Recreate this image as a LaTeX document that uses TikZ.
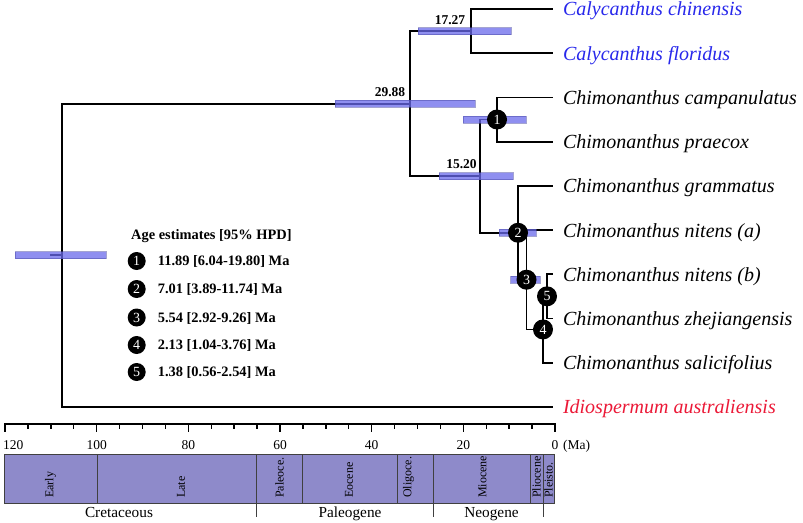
\documentclass[tikz,border=0pt]{standalone}
\usepackage{fontspec}
\setmainfont{Liberation Serif}
\definecolor{barblue}{RGB}{105,105,235}
\definecolor{calblue}{RGB}{40,40,235}
\definecolor{idired}{RGB}{235,25,55}
\definecolor{tsfill}{RGB}{142,138,202}
\begin{document}
\begin{tikzpicture}[x=1pt,y=-1pt,
  branch/.style={line width=1.8pt, line join=miter},
  hpd/.style={fill=barblue, fill opacity=0.75, draw=barblue!70!black, draw opacity=0.5, line width=0.5pt},
  nodecirc/.style={circle, fill=black, minimum size=20pt, inner sep=0pt, text=white, font=\fontsize{14}{14}\selectfont},
  tip/.style={anchor=west, inner xsep=10pt, inner ysep=0pt, outer sep=0pt, text height=18pt, text depth=4pt, font=\fontsize{20}{20}\selectfont\itshape},
  agelab/.style={anchor=base, inner sep=0pt, font=\fontsize{13.5}{13.5}\selectfont\bfseries},
  legtext/.style={anchor=base west, inner sep=0pt, font=\fontsize{14.4}{14.4}\selectfont\bfseries},
  axlabel/.style={anchor=base, inner sep=0pt, font=\fontsize{13.5}{13.5}\selectfont},
  epoch/.style={rotate=90, anchor=west, inner sep=0pt, font=\fontsize{12}{12}\selectfont},
  period/.style={anchor=base, inner sep=0pt, font=\fontsize{15.3}{15.3}\selectfont},
  tsbox/.style={fill=tsfill, draw=black!75, line width=0.8pt},
  axisline/.style={line width=1.8pt},
  tick/.style={line width=1.4pt}
]
\useasboundingbox (0,0) rectangle (803,522);

% tips
\node[tip, text=calblue] (t1) at (553,9) {Calycanthus chinensis};
\node[tip, text=calblue] (t2) at (553,53.2) {Calycanthus floridus};
\node[tip] (t3) at (553,97.4) {Chimonanthus campanulatus};
\node[tip] (t4) at (553,141.6) {Chimonanthus praecox};
\node[tip] (t5) at (553,185.8) {Chimonanthus grammatus};
\node[tip] (t6) at (553,230) {Chimonanthus nitens (a)};
\node[tip] (t7) at (553,274.2) {Chimonanthus nitens (b)};
\node[tip] (t8) at (553,318.4) {Chimonanthus zhejiangensis};
\node[tip] (t9) at (553,362.6) {Chimonanthus salicifolius};
\node[tip, text=idired] (t10) at (553,406.8) {Idiospermum australiensis};

% internal nodes
\coordinate (rs) at (50,255.2);
\coordinate (r) at (62,255.2);
\coordinate (n29) at (410,103.6);
\coordinate (n17) at (471,31);
\coordinate (n15) at (480,176.1);
\coordinate (n1) at (497,119.5);
\coordinate (n2) at (518,232.75);
\coordinate (n3) at (526.5,279.7);
\coordinate (n4) at (543,329.45);
\coordinate (n5) at (547,296.3);

% branches
\draw[branch] (rs) -- (r);
\draw[branch] (r) |- (n29);
\draw[branch] (r) |- (t10.west);
\draw[branch] (n29) |- (n17);
\draw[branch] (n29) |- (n15);
\draw[branch] (n17) |- (t1.west);
\draw[branch] (n17) |- (t2.west);
\draw[branch] (n15) |- (n1);
\draw[branch] (n15) |- (n2);
\draw[branch] (n1) |- (t3.west);
\draw[branch] (n1) |- (t4.west);
\draw[branch] (n2) |- (t5.west);
\draw[branch] (n2) |- (n3);
\draw[branch] (n3) |- (t6.west);
\draw[branch] (n3) |- (n4);
\draw[branch] (n4) |- (n5);
\draw[branch] (n4) |- (t9.west);
\draw[branch] (n5) |- (t7.west);
\draw[branch] (n5) |- (t8.west);

% HPD bars
\filldraw[hpd] (15,251.7) rectangle (106,258.7);
\filldraw[hpd] (335,100.1) rectangle (475,107.1);
\filldraw[hpd] (418,27.5) rectangle (511,34.5);
\filldraw[hpd] (439,172.6) rectangle (513,179.6);
\filldraw[hpd] (463,116) rectangle (526,123);
\filldraw[hpd] (499,229.25) rectangle (536,236.25);
\filldraw[hpd] (510.7,276.2) rectangle (540,283.2);

% node ages
\node[agelab] (a29) at (390,96) {29.88};
\node[agelab] (a17) at (450,24) {17.27};
\node[agelab] (a15) at (461.5,168) {15.20};

% numbered nodes
\node[nodecirc] (c1) at (n1) {1};
\node[nodecirc] (c2) at (n2) {2};
\node[nodecirc] (c3) at (n3) {3};
\node[nodecirc] (c4) at (n4) {4};
\node[nodecirc] (c5) at (n5) {5};

% legend
\node[legtext] (leg) at (131,239) {Age estimates [95\% HPD]};
\node[nodecirc, minimum size=18pt] (l1) at (136.7,261) {1};
\node[nodecirc, minimum size=18pt] (l2) at (136.7,289) {2};
\node[nodecirc, minimum size=18pt] (l3) at (136.7,317.5) {3};
\node[nodecirc, minimum size=18pt] (l4) at (136.7,345) {4};
\node[nodecirc, minimum size=18pt] (l5) at (136.7,372) {5};
\node[legtext] (e1) at (157.7,265.5) {11.89 [6.04-19.80] Ma};
\node[legtext] (e2) at (157.7,293.5) {7.01 [3.89-11.74] Ma};
\node[legtext] (e3) at (157.7,322) {5.54 [2.92-9.26] Ma};
\node[legtext] (e4) at (157.7,349.5) {2.13 [1.04-3.76] Ma};
\node[legtext] (e5) at (157.7,376.5) {1.38 [0.56-2.54] Ma};

% axis
\draw[axisline] (5,424) -- (555,424);
\foreach \a in {0,20,...,120} \draw[tick] ({555-\a*4.58333},423) -- ({555-\a*4.58333},432);
\foreach \a in {5,10,15,25,30,35,45,50,55,65,70,75,85,90,95,105,110,115} \draw[tick] ({555-\a*4.58333},423) -- ({555-\a*4.58333},429);
\foreach \a in {0,20,40,60,80,100} \node[axlabel] (ax\a) at ({555-\a*4.58333},449) {\a};
\node[axlabel, anchor=base west] (ax120) at (3,449) {120};
\node[axlabel, anchor=base west] (ma) at (563,449) {(Ma)};

% timescale
\draw[tsbox] (4,454) rectangle (97,503);
\draw[tsbox] (97,454) rectangle (256.7,503);
\draw[tsbox] (256.7,454) rectangle (302.7,503);
\draw[tsbox] (302.7,454) rectangle (397.3,503);
\draw[tsbox] (397.3,454) rectangle (433.3,503);
\draw[tsbox] (433.3,454) rectangle (530,503);
\draw[tsbox] (530,454) rectangle (543,503);
\draw[tsbox] (543,454) rectangle (554,503);
\node[epoch] (ep1) at (50.5,498) {Early};
\node[epoch] (ep2) at (181,498) {Late};
\node[epoch] (ep3) at (279.5,498) {Paleoce.};
\node[epoch] (ep4) at (349,498) {Eocene};
\node[epoch] (ep5) at (408.5,498) {Oligoce.};
\node[epoch] (ep6) at (482.5,498) {Miocene};
\node[epoch] (ep7) at (536.5,498) {Pliocene};
\node[epoch] (ep8) at (548.5,498) {Pleisto.};
\draw[line width=0.8pt, black!75] (256.7,503) -- (256.7,517);
\draw[line width=0.8pt, black!75] (433.3,503) -- (433.3,517);
\draw[line width=0.8pt, black!75] (543,503) -- (543,517);
\node[period] (p1) at (119,517) {Cretaceous};
\node[period] (p2) at (350,517) {Paleogene};
\node[period] (p3) at (491.5,517) {Neogene};
\end{tikzpicture}
\end{document}
